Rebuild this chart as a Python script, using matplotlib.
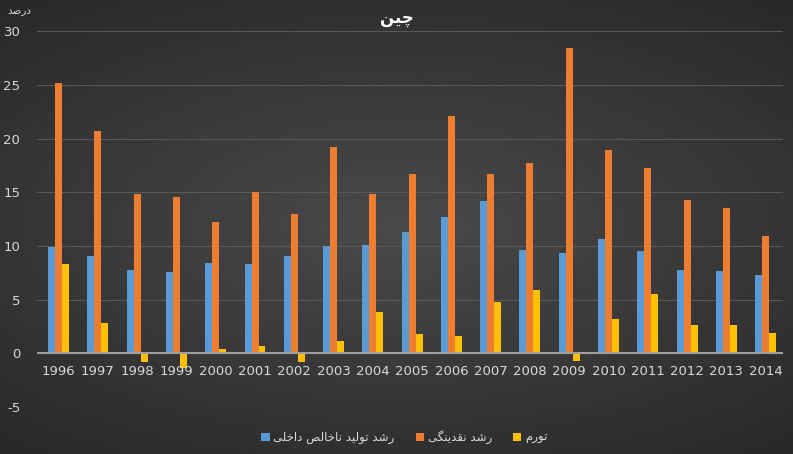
import numpy as np
import matplotlib
matplotlib.use('Agg')
from matplotlib import pyplot as plt

years = ['1996', '1997', '1998', '1999', '2000', '2001', '2002', '2003', '2004', '2005',
         '2006', '2007', '2008', '2009', '2010', '2011', '2012', '2013', '2014']
gdp = [9.9, 9.1, 7.8, 7.6, 8.4, 8.3, 9.1, 10.0, 10.1, 11.3,
       12.7, 14.2, 9.6, 9.3, 10.6, 9.5, 7.8, 7.7, 7.3]
money = [25.2, 20.7, 14.8, 14.6, 12.2, 15.0, 13.0, 19.2, 14.8, 16.7,
         22.1, 16.7, 17.7, 28.4, 18.9, 17.3, 14.3, 13.5, 10.9]
infl = [8.3, 2.8, -0.8, -1.4, 0.4, 0.7, -0.8, 1.1, 3.8, 1.8,
        1.6, 4.8, 5.9, -0.7, 3.2, 5.5, 2.6, 2.6, 1.9]
names = ['رشد تولید ناخالص داخلی', 'رشد نقدینگی', 'تورم']
title = 'چین'
unit = 'درصد'

# tiny arabic/persian shaper -> presentation forms, visual order
FORMS = {  # isol, final, init, medial
    'ا': ('\uFE8D', '\uFE8E', None, None),
    'د': ('\uFEA9', '\uFEAA', None, None),
    'ر': ('\uFEAD', '\uFEAE', None, None),
    'و': ('\uFEED', '\uFEEE', None, None),
    'ت': ('\uFE95', '\uFE96', '\uFE97', '\uFE98'),
    'خ': ('\uFEA5', '\uFEA6', '\uFEA7', '\uFEA8'),
    'ش': ('\uFEB5', '\uFEB6', '\uFEB7', '\uFEB8'),
    'ص': ('\uFEB9', '\uFEBA', '\uFEBB', '\uFEBC'),
    'ق': ('\uFED5', '\uFED6', '\uFED7', '\uFED8'),
    'ل': ('\uFEDD', '\uFEDE', '\uFEDF', '\uFEE0'),
    'م': ('\uFEE1', '\uFEE2', '\uFEE3', '\uFEE4'),
    'ن': ('\uFEE5', '\uFEE6', '\uFEE7', '\uFEE8'),
    'ی': ('\uFBFC', '\uFBFD', '\uFBFE', '\uFBFF'),
    'چ': ('\uFB7A', '\uFB7B', '\uFB7C', '\uFB7D'),
    'گ': ('\uFB92', '\uFB93', '\uFB94', '\uFB95'),
}

def dual(c):
    return c in FORMS and FORMS[c][2] is not None

def shape(s):
    out = []
    for i, c in enumerate(s):
        if c not in FORMS:
            out.append(c)
            continue
        prev = s[i - 1] if i > 0 else ''
        nxt = s[i + 1] if i + 1 < len(s) else ''
        jp = dual(prev)
        jn = dual(c) and nxt in FORMS
        f = FORMS[c]
        if jp and jn:
            out.append(f[3])
        elif jp:
            out.append(f[1])
        elif jn:
            out.append(f[2])
        else:
            out.append(f[0])
    return ''.join(out[::-1])

plt.rcParams['font.family'] = ['DejaVu Sans']
plt.rcParams['axes.unicode_minus'] = False

fig = plt.figure(figsize=(7.93, 4.54), dpi=100)

# dark radial background
bg = fig.add_axes([0, 0, 1, 1])
yy, xx = np.mgrid[-1:1:300j, -1:1:500j]
r = np.sqrt((xx * 0.9) ** 2 + (yy * 1.1) ** 2)
bg.imshow(0.29 - 0.13 * np.clip(r, 0, 1.4) / 1.4, cmap='gray', vmin=0, vmax=1,
          aspect='auto', extent=[0, 1, 0, 1])
bg.axis('off')

ax = fig.add_axes([0.0467, 0.1035, 0.941, 0.828])
ax.patch.set_alpha(0)
x = np.arange(len(years))
w = 0.178
cols = ['#5B9BD5', '#ED7D31', '#FFC000']
for k, (vals, c) in enumerate(zip([gdp, money, infl], cols)):
    ax.bar(x + (k - 1) * w + 0.05, vals, w, color=c, label=shape(names[k]), zorder=3)

ax.set_xlim(-0.5, len(years) - 0.5)
ax.set_ylim(-5, 30)
ax.set_yticks(range(-5, 31, 5))
ax.yaxis.grid(True, color='#585858', lw=0.8, zorder=0)
ax.axhline(0, color='#a0a0a0', lw=1.5, zorder=4)
for s in ax.spines.values():
    s.set_visible(False)
ax.tick_params(length=0, colors='#d9d9d9', labelsize=9.5)
ax.tick_params(axis='y', pad=12)
ax.set_xticks(x)
ax.set_xticklabels([])
for i, yr in enumerate(years):
    ax.text(i + 0.05, -1.1, yr, ha='center', va='top', color='#d9d9d9', fontsize=9.5)

fig.text(0.5, 0.96, shape(title), ha='center', va='center', color='white',
         fontsize=12, fontweight='bold')
fig.text(0.025, 0.975, shape(unit), ha='center', va='center', color='#d9d9d9', fontsize=7.5)

leg = fig.legend(loc='center', bbox_to_anchor=(0.51, 0.037), ncol=3, frameon=False,
                 fontsize=8.5, handlelength=0.7, handleheight=0.7, handletextpad=0.3,
                 columnspacing=1.8)
for t in leg.get_texts():
    t.set_color('#d9d9d9')

fig.savefig('out.png', dpi=100)
